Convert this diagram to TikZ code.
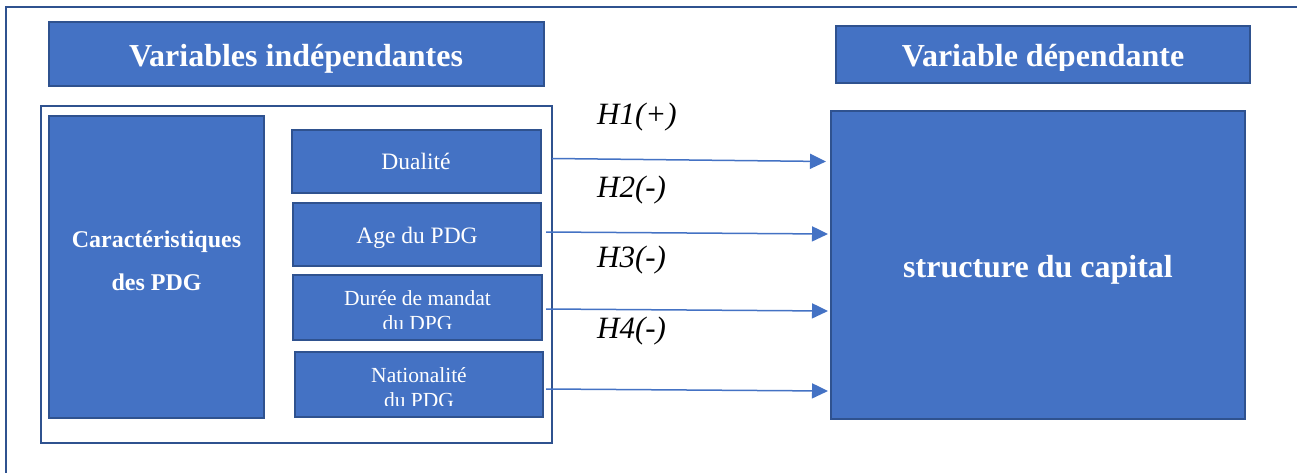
\documentclass[tikz,border=0pt]{standalone}
\usepackage{fontspec}
\setmainfont{Liberation Serif}
\usetikzlibrary{arrows.meta}
\definecolor{boxblue}{HTML}{4472C4}
\definecolor{edgeblue}{HTML}{2F528F}
\begin{document}
\begin{tikzpicture}[x=1pt,y=-1pt,
  box/.style={rectangle,draw=edgeblue,fill=boxblue,line width=2pt,inner sep=0pt,outer sep=0pt},
  frame/.style={draw=edgeblue,line width=2pt},
  lab/.style={text=white,inner sep=0pt,anchor=base},
  bigbold/.style={font=\fontsize{32}{32}\selectfont\bfseries},
  midbold/.style={font=\fontsize{24}{24}\selectfont\bfseries},
  itemA/.style={font=\fontsize{23.5}{23.5}\selectfont},
  itemB/.style={font=\fontsize{21.5}{21.5}\selectfont},
  hyp/.style={font=\fontsize{31}{31}\selectfont\itshape,inner sep=0pt,anchor=base west},
  link/.style={draw=boxblue,line width=1.5pt,-{Triangle[length=16pt,width=15pt]}}
]
\useasboundingbox (0,0) rectangle (1297,473);
\clip (0,0) rectangle (1297,473);
\fill[white] (0,0) rectangle (1297,473);

% outer frame, continuing past the right and bottom edges
\draw[frame] (5.5,520) -- (5.5,7) -- (1340,7);

% headings
\node[box,minimum width=495pt,minimum height=64pt] (titleL) at (296.5,54) {};
\node[lab,bigbold] (titleLtext) at (296,67) {Variables indépendantes};

\node[box,minimum width=414pt,minimum height=57pt] (titleR) at (1043,54.5) {};
\begin{scope}
  \clip (838,28) rectangle (1248,70.5);
  \node[lab,bigbold] (titleRtext) at (1043,66.7) {Variable dépendante};
\end{scope}

% group of independent variables
\node[frame,rectangle,inner sep=0pt,minimum width=511pt,minimum height=337pt] (indep) at (296.5,274.5) {};

\node[box,minimum width=215pt,minimum height=302pt] (carac) at (156.5,267) {};
\node[lab,midbold] (caracA) at (156.5,247) {Caractéristiques};
\node[lab,midbold] (caracB) at (156.5,290) {des PDG};

\node[box,minimum width=249pt,minimum height=63pt] (dual) at (416,161.5) {};
\node[lab,itemA] (dualT) at (416,170) {Dualité};

\node[box,minimum width=248pt,minimum height=63pt] (age) at (417,234.5) {};
\node[lab,itemA] (ageT) at (417,243) {Age du PDG};

\node[box,minimum width=249pt,minimum height=65pt] (duree) at (417.5,307.5) {};
\begin{scope}
  \clip (294,277) rectangle (541,328);
  \node[lab,itemB] (dureeA) at (417.5,305) {Durée de mandat};
  \node[lab,itemB] (dureeB) at (417.5,330) {du DPG};
\end{scope}

\node[box,minimum width=248pt,minimum height=65pt] (nat) at (419,384.5) {};
\begin{scope}
  \clip (296,354) rectangle (542,405);
  \node[lab,itemB] (natA) at (419,382) {Nationalité};
  \node[lab,itemB] (natB) at (419,407.5) {du PDG};
\end{scope}

% dependent variable
\node[box,minimum width=414pt,minimum height=308pt] (capital) at (1038,265) {};
\node[lab,bigbold] (capitalT) at (1038,277) {structure du capital};

% hypotheses
\coordinate (s1) at (552,158.5);  \coordinate (e1) at (826,161.5);
\coordinate (s2) at (546,232);    \coordinate (e2) at (828,234);
\coordinate (s3) at (546,309);    \coordinate (e3) at (828,311);
\coordinate (s4) at (546,389);    \coordinate (e4) at (828,391);
\draw[link] (s1) -- (e1);
\draw[link] (s2) -- (e2);
\draw[link] (s3) -- (e3);
\draw[link] (s4) -- (e4);

\node[hyp] (h1) at (597,125) {H1(+)};
\node[hyp] (h2) at (597,197) {H2(-)};
\node[hyp] (h3) at (597,267) {H3(-)};
\node[hyp] (h4) at (597,338) {H4(-)};
\end{tikzpicture}
\end{document}
